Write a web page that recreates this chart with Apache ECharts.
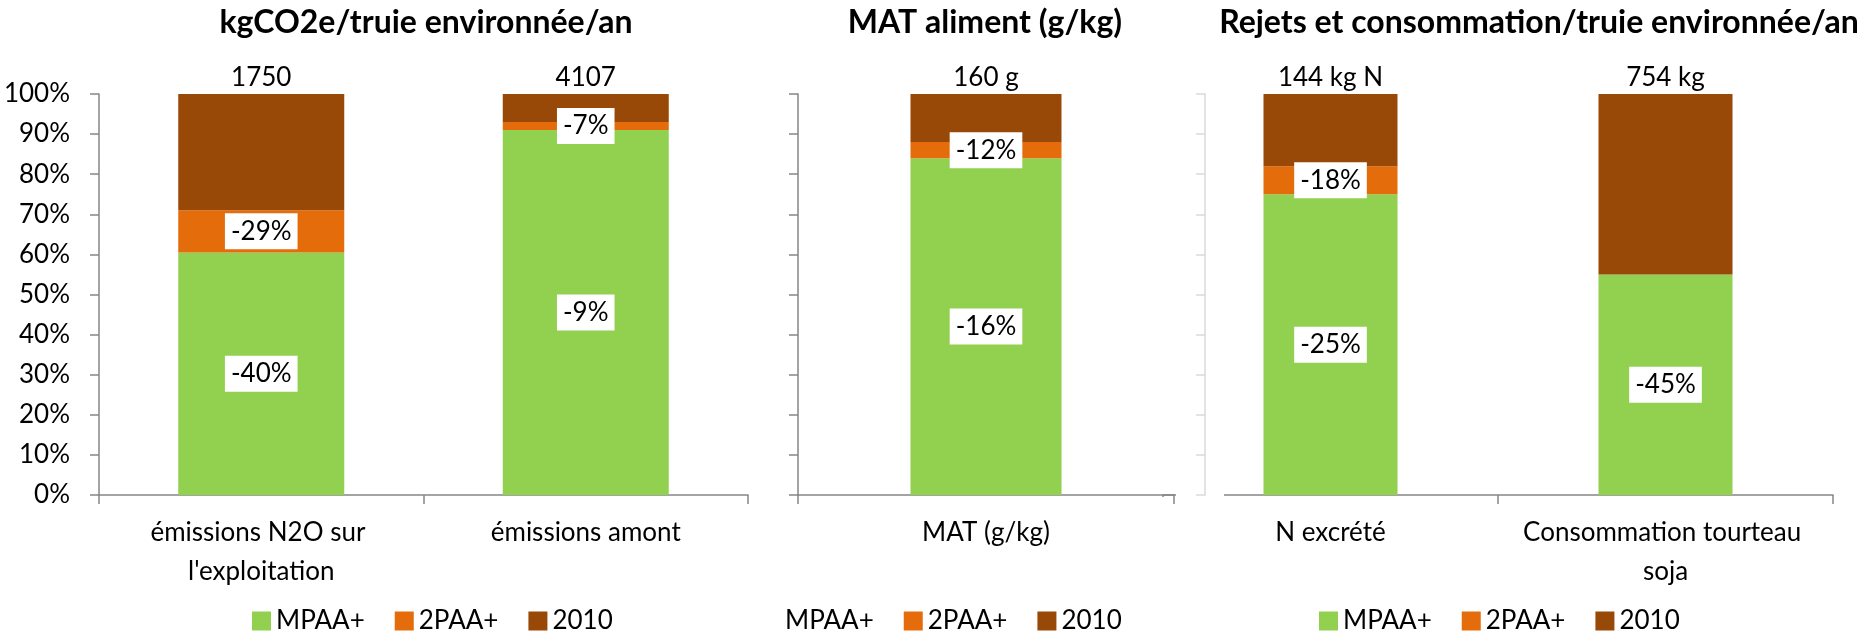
<!DOCTYPE html>
<html lang="fr">
<head>
    <meta charset="UTF-8">
    <title>MPAA+ / 2PAA+ / 2010</title>
    <script src="https://cdn.jsdelivr.net/npm/echarts@6/dist/echarts.min.js"></script>
</head>
<body style="margin:0">
<div id="main" style="width: 1863px;height:631px;"></div>
<script>
    const seriesNames = ['MPAA+', '2PAA+', '2010'];
    const colors = ['#92D050', '#E46C0A', '#984807'];
    const titles = ['kgCO2e/truie environnée/an', 'MAT aliment (g/kg)', 'Rejets et consommation/truie environnée/an'];

    // bloc 1 : émissions
    const cats1 = ["émissions N2O sur l'exploitation", 'émissions amont'];
    const mpaa1 = [60.5, 91];
    const paa1 = [10.5, 2];
    const ref1 = [29, 7];
    const mpaaLbl1 = ['-40%', '-9%'];
    const paaLbl1 = ['-29%', '-7%'];
    const tops1 = ['1750', '4107'];

    // bloc 2 : MAT
    const cats2 = ['MAT (g/kg)'];
    const mpaa2 = [84];
    const paa2 = [4];
    const ref2 = [12];
    const mpaaLbl2 = ['-16%'];
    const paaLbl2 = ['-12%'];
    const tops2 = ['160 g'];

    // bloc 3 : rejets et consommation
    const cats3 = ['N excrété', 'Consommation tourteau soja'];
    const mpaa3 = [75, 55];
    const paa3 = [7, 0];
    const ref3 = [18, 45];
    const mpaaLbl3 = ['-25%', '-45%'];
    const paaLbl3 = ['-18%', ''];
    const tops3 = ['144 kg N', '754 kg'];

    const yTicks = [0, 10, 20, 30, 40, 50, 60, 70, 80, 90, 100];

    const font = 'Lato';
    const axisGrey = '#868686';

    const boxLabel = {
        show: true,
        position: 'inside',
        backgroundColor: '#fff',
        padding: [5, 6],
        color: '#000',
        fontSize: 26,
        fontFamily: font
    };

    function withLabels(values, labels) {
        return values.map(function (v, i) {
            return {value: v, label: {show: labels[i] !== ''}};
        });
    }

    function makeSeries(gi, mpaa, paa, ref, lblM, lblP, tops, barW) {
        return [{
            name: seriesNames[0], type: 'bar', stack: 's' + gi,
            xAxisIndex: gi, yAxisIndex: gi, barWidth: barW,
            itemStyle: {color: colors[0]},
            label: Object.assign({}, boxLabel, {formatter: function (p) { return lblM[p.dataIndex]; }}),
            data: withLabels(mpaa, lblM)
        }, {
            name: seriesNames[1], type: 'bar', stack: 's' + gi,
            xAxisIndex: gi, yAxisIndex: gi, barWidth: barW,
            itemStyle: {color: colors[1]},
            label: Object.assign({}, boxLabel, {formatter: function (p) { return lblP[p.dataIndex]; }}),
            data: withLabels(paa, lblP)
        }, {
            name: seriesNames[2], type: 'bar', stack: 's' + gi,
            xAxisIndex: gi, yAxisIndex: gi, barWidth: barW,
            itemStyle: {color: colors[2]},
            label: {
                show: true, position: 'top', distance: 3,
                color: '#000', fontSize: 26, fontFamily: font,
                formatter: function (p) { return tops[p.dataIndex]; }
            },
            data: ref
        }];
    }

    function xAx(gi, cats, w) {
        return {
            type: 'category', gridIndex: gi, data: cats,
            axisLine: {lineStyle: {color: axisGrey, width: 1.5}},
            axisTick: {show: true, length: 9, lineStyle: {color: axisGrey, width: 1.5}},
            axisLabel: {
                color: '#000', fontSize: 26, fontFamily: font, margin: 18,
                lineHeight: 39, width: w, overflow: 'break', interval: 0
            }
        };
    }

    function yAx(gi, showLabels, lineColor, offset) {
        return {
            type: 'value', gridIndex: gi, min: 0, max: 100, interval: 10,
            offset: offset, z: 10,
            splitLine: {show: false},
            axisLine: {show: true, lineStyle: {color: lineColor, width: 1.5}},
            axisTick: {show: true, length: 9, lineStyle: {color: lineColor, width: 1.5}},
            axisLabel: {
                show: showLabels, color: '#000', fontSize: 26, fontFamily: font, margin: 29,
                formatter: function (v) { return yTicks.indexOf(v) >= 0 ? v + '%' : ''; }
            }
        };
    }

    const legendBase = {
        top: 603, icon: 'rect', itemWidth: 19, itemHeight: 19, itemGap: 30,
        textStyle: {color: '#000', fontSize: 26, fontFamily: font}
    };

    const titleStyle = {fontSize: 32, fontWeight: 'bold', fontFamily: font, color: '#000'};

    const myChart = echarts.init(document.getElementById('main'));
    const option = {
        animation: false,
        title: [
            {text: titles[0], left: 421, top: 2, textAlign: 'center', textStyle: titleStyle},
            {text: titles[1], left: 980, top: 2, textAlign: 'center', textStyle: titleStyle},
            {text: titles[2], left: 1534, top: 2, textAlign: 'center', textStyle: titleStyle}
        ],
        legend: [
            Object.assign({left: 247, data: seriesNames}, legendBase),
            Object.assign({left: 756, data: [{name: 'MPAA+', icon: 'none'}, '2PAA+', '2010']}, legendBase),
            Object.assign({left: 1314, data: seriesNames}, legendBase)
        ],
        grid: [
            {left: 99, width: 649, top: 94, bottom: 136},
            {left: 798, width: 376, top: 94, bottom: 136},
            {left: 1163, width: 670, top: 94, bottom: 136}
        ],
        xAxis: [xAx(0, cats1, 300), xAx(1, cats2, 340), xAx(2, cats3, 320)],
        yAxis: [
            yAx(0, true, axisGrey, 0),
            yAx(1, false, axisGrey, 0),
            yAx(2, false, '#dadada', -42)
        ],
        graphic: [
            // Excel leaves a gap in the last axis line
            {type: 'rect', z: 5, shape: {x: 1176, y: 491, width: 48, height: 15}, style: {fill: '#fff'}},
            {type: 'rect', z: 5, shape: {x: 1159, y: 497, width: 8, height: 10}, style: {fill: '#fff'}}
        ],
        series: [].concat(
            makeSeries(0, mpaa1, paa1, ref1, mpaaLbl1, paaLbl1, tops1, 166),
            makeSeries(1, mpaa2, paa2, ref2, mpaaLbl2, paaLbl2, tops2, 151),
            makeSeries(2, mpaa3, paa3, ref3, mpaaLbl3, paaLbl3, tops3, 134)
        )
    };
    myChart.setOption(option);
</script>
</body>
</html>
